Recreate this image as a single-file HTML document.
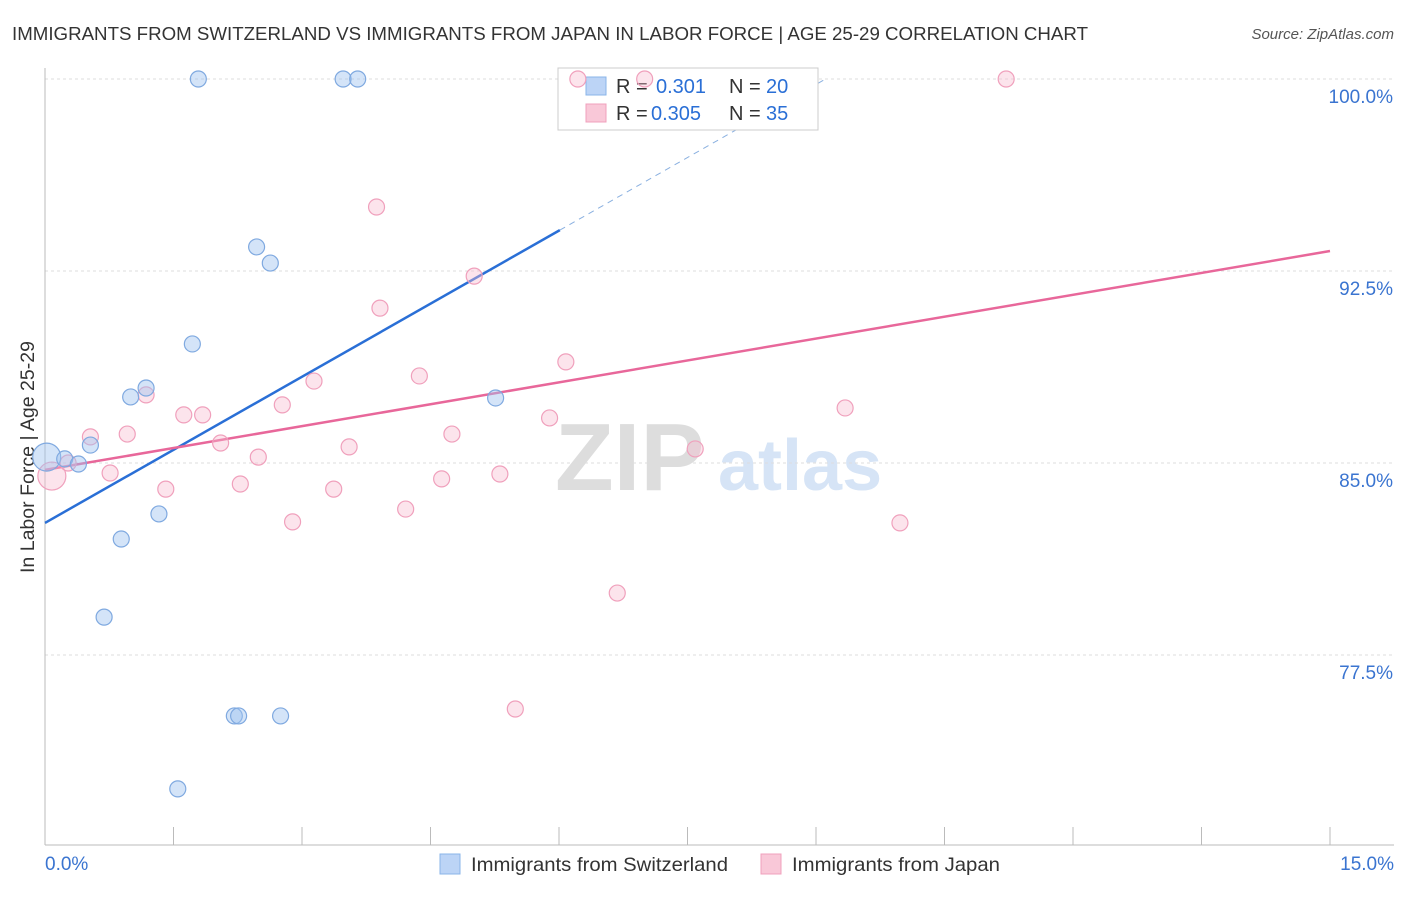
<!DOCTYPE html>
<html><head><meta charset="utf-8"><style>
body{margin:0;background:#fff;font-family:"Liberation Sans",sans-serif;}
svg text{font-family:"Liberation Sans",sans-serif;}
</style></head><body>
<svg id="chart" width="1406" height="892" viewBox="0 0 1406 892">
<text x="12" y="40" font-size="18.5" fill="#333" textLength="1076" lengthAdjust="spacingAndGlyphs">IMMIGRANTS FROM SWITZERLAND VS IMMIGRANTS FROM JAPAN IN LABOR FORCE | AGE 25-29 CORRELATION CHART</text>
<text x="1394" y="39" font-size="15" fill="#555" font-style="italic" text-anchor="end">Source: ZipAtlas.com</text>
<text x="34" y="457" font-size="19" fill="#333" text-anchor="middle" transform="rotate(-90 34 457)" textLength="232" lengthAdjust="spacingAndGlyphs">In Labor Force | Age 25-29</text>
<g><text x="555" y="490" font-size="96" fill="#ddd" font-family="Liberation Serif" font-weight="bold">ZIP</text><text x="718" y="490" font-size="72" fill="#d6e4f6" font-weight="bold">atlas</text></g>
<g id="grid"></g><g id="axes"></g><g id="lines"></g>
<g>
<rect x="558" y="68" width="260" height="62" fill="#fff" stroke="#ccc"/>
<rect x="586" y="77" width="20" height="18" fill="#bcd4f6" stroke="#8ab4e8"/>
<text x="616" y="93" font-size="20" fill="#333">R = </text><text x="656" y="93" font-size="20" fill="#2a6fd6">0.301</text>
<text x="729" y="93" font-size="20" fill="#333">N = </text><text x="766" y="93" font-size="20" fill="#2a6fd6">20</text>
<rect x="586" y="104" width="20" height="18" fill="#f9c8d8" stroke="#f0a0bc"/>
<text x="616" y="120" font-size="20" fill="#333">R = </text><text x="651" y="120" font-size="20" fill="#2a6fd6">0.305</text>
<text x="729" y="120" font-size="20" fill="#333">N = </text><text x="766" y="120" font-size="20" fill="#2a6fd6">35</text>
</g>
<g id="pts"></g>
<g>
<rect x="440" y="854" width="20" height="20" fill="#bcd4f6" stroke="#8ab4e8"/>
<text x="471" y="871" font-size="19.5" fill="#333" textLength="257" lengthAdjust="spacingAndGlyphs">Immigrants from Switzerland</text>
<rect x="761" y="854" width="20" height="20" fill="#f9c8d8" stroke="#f0a0bc"/>
<text x="792" y="871" font-size="19.5" fill="#333" textLength="208" lengthAdjust="spacingAndGlyphs">Immigrants from Japan</text>
</g>
</svg>
<script>
const blueX=[0.02,0.23,0.39,0.53,1.00,1.18,1.72,1.79,2.47,2.63,1.33,0.89,0.69,2.21,2.26,2.75,1.55,3.48,3.65,5.26];
const blueY=[85.23,85.16,84.96,85.70,87.58,87.93,89.65,100,93.44,92.81,83.01,82.03,78.98,75.12,75.12,75.12,72.27,100,100,87.54];
const pinkX=[0.08,0.27,0.53,0.76,0.96,1.18,1.41,1.62,1.84,2.05,2.28,2.49,2.77,2.89,3.14,3.37,3.55,3.87,3.91,4.21,4.37,4.63,4.75,5.01,5.31,5.49,5.89,6.08,6.22,6.68,7.00,7.59,9.34,9.98,11.22];
const pinkY=[84.49,85.0,86.02,84.61,86.13,87.66,83.98,86.88,86.88,85.78,84.18,85.23,87.27,82.70,88.20,83.98,85.63,95.0,91.05,83.20,88.40,84.38,86.13,92.30,84.57,75.39,86.76,88.95,100,79.92,100,85.55,87.15,82.66,100];
const yTicks=[100,92.5,85,77.5];
const yTickLabels=["100.0%","92.5%","85.0%","77.5%"];
const xTickLabels=["0.0%","15.0%"];
const blueLine=[82.66,1.903];
const pinkLine=[84.73,0.570];
const NS="http://www.w3.org/2000/svg";
const sx=v=>45+v/15*1285, sy=v=>79+(100-v)*25.6;
function mk(t,a,p){const e=document.createElementNS(NS,t);for(const k in a)e.setAttribute(k,a[k]);document.getElementById(p).appendChild(e);return e;}
yTicks.forEach((t,i)=>{
 const l=mk('line',{x1:45,x2:1394,y1:sy(t),y2:sy(t),stroke:'#ddd','stroke-dasharray':'3,3'},'grid');
 
 
 const tx=mk('text',{x:1393,y:sy(t)+24,'font-size':19,fill:'#3a74d0','text-anchor':'end'},'axes');tx.textContent=yTickLabels[i];
 
 
});
mk('line',{x1:45,x2:45,y1:68,y2:845,stroke:'#bbb'},'axes');
mk('line',{x1:45,x2:1394,y1:845,y2:845,stroke:'#bbb'},'axes');
for(let i=0;i<=10;i++){mk('line',{x1:sx(i*1.5),x2:sx(i*1.5),y1:827,y2:845,stroke:'#bbb'},'axes');}
[[0,45,'start'],[15,1394,'end']].forEach((d,i)=>{const t=mk('text',{x:d[1],y:870,'font-size':19,fill:'#3a74d0','text-anchor':d[2]},'axes');t.textContent=xTickLabels[i];
 
 });
const bl=x=>blueLine[0]+blueLine[1]*x, pl=x=>pinkLine[0]+pinkLine[1]*x;
const xe=(100-blueLine[0])/blueLine[1];
const b1=mk('line',{x1:sx(0),y1:sy(bl(0)),x2:sx(6.01),y2:sy(bl(6.01)),stroke:'#2a6fd6','stroke-width':2.5},'lines');


const b2=mk('line',{x1:sx(6.01),y1:sy(bl(6.01)),x2:sx(xe),y2:sy(100),stroke:'#8ab0e0','stroke-width':1,'stroke-dasharray':'6,5'},'lines');


const p1=mk('line',{x1:sx(0),y1:sy(pl(0)),x2:sx(15),y2:sy(pl(15)),stroke:'#e8679a','stroke-width':2.5},'lines');


function pts(X,Y,fill,stroke,name,bigIdx){X.forEach((x,i)=>{const c=mk('circle',{cx:sx(x),cy:sy(Y[i]),r:i===bigIdx?14:8,fill:fill,stroke:stroke,'stroke-width':1.2},'pts');
 
 });}
pts(pinkX,pinkY,'rgba(248,187,208,0.4)','#f0a0bc','point-japan',0);
pts(blueX,blueY,'rgba(160,195,240,0.45)','#7fa9e0','point-switzerland',0);
</script>
</body></html>
